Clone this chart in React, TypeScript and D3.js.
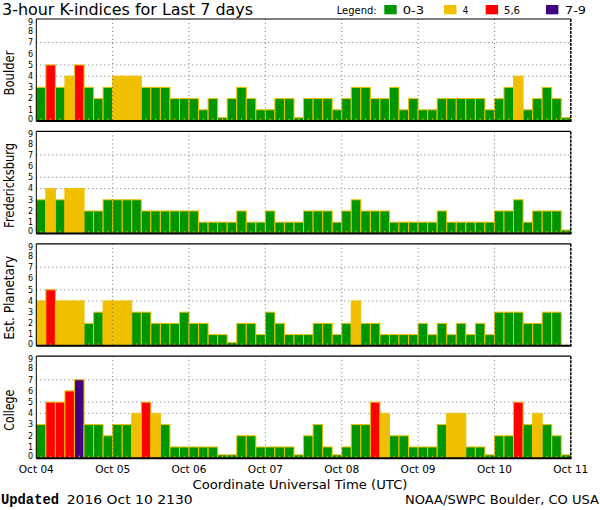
import React from "react";
import * as d3 from "d3";

const dayLabels = ["Oct 04", "Oct 05", "Oct 06", "Oct 07", "Oct 08", "Oct 09", "Oct 10", "Oct 11"];
const stations = ["Boulder", "Fredericksburg", "Est. Planetary", "College"];
const yTicks = [0, 1, 2, 3, 4, 5, 6, 7, 8, 9];
const gridLevels = [4, 5, 7];

const boulder = [3,5,3,4,5,3,2,3, 4,4,4,3,3,3,2,2, 2,1,2,0,2,3,2,1, 1,2,2,0,2,2,2,1, 2,3,3,2,2,3,1,2, 1,1,2,2,2,2,2,1, 2,3,4,1,2,3,2,0];
const fredericksburg = [3,4,3,4,4,2,2,3, 3,3,3,2,2,2,2,2, 2,1,1,1,1,2,1,1, 2,1,1,1,2,2,2,1, 2,3,2,2,2,1,1,1, 1,1,2,1,1,1,1,1, 2,2,3,1,2,2,2,0];
const planetary = [4,5,4,4,4,2,3,4, 4,4,3,3,2,2,2,3, 2,2,1,1,0,2,2,1, 3,2,1,1,1,2,2,1, 2,4,2,2,1,1,1,1, 2,1,2,1,2,1,2,1, 3,3,3,2,2,3,3];
const college = [3,5,5,6,7,3,3,2, 3,3,4,5,4,3,1,1, 1,1,1,0,0,2,2,1, 1,1,1,0,2,3,1,0, 1,3,3,5,4,2,2,1, 1,1,3,4,4,1,1,0, 2,2,5,3,4,3,2,0];
const series = [boulder, fredericksburg, planetary, college];

const legendLabels = ["0-3", "4", "5,6", "7-9"];
const legendColors = ["#009600", "#f0c000", "#ff0000", "#400080"];

const SLOTS = 56;
const FONT = "DejaVu Sans, Verdana, sans-serif";

function colorFor(v: number) {
  if (v <= 3) return legendColors[0];
  if (v === 4) return legendColors[1];
  if (v <= 6) return legendColors[2];
  return legendColors[3];
}

export default function App() {
  const x = d3.scaleLinear().domain([0, SLOTS]).range([36.3, 570.8]);
  const panelTop = (i: number) => 19 + i * 112.4;
  const panelH = 102;
  const dayIdx = d3.range(0, 8);
  const labelLens = [45, 85, 84, 41];
  const legendX = [
    { sx: 384.3, tx: 402.7, tl: 21.5 },
    { sx: 444, tx: 462.7, tl: 5.5 },
    { sx: 485.7, tx: 504, tl: 16 },
    { sx: 546, tx: 565, tl: 21 },
  ];

  return (
    <svg
      width={600}
      height={510}
      style={{ position: "fixed", left: 0, top: 0, background: "#fff" }}
      fontFamily={FONT}
    >
      <rect x={0} y={0} width={600} height={510} fill="#fff" />
      <text x={2} y={15} fontSize={16} textLength={251} lengthAdjust="spacingAndGlyphs">
        3-hour K-indices for Last 7 days
      </text>
      <text x={336.7} y={14.3} fontSize={11} textLength={40} lengthAdjust="spacingAndGlyphs">
        Legend:
      </text>
      {legendLabels.map((l, i) => (
        <g key={l}>
          <rect x={legendX[i].sx} y={5} width={12.4} height={9.3} fill={legendColors[i]} />
          <text x={legendX[i].tx} y={14.3} fontSize={11} textLength={legendX[i].tl} lengthAdjust="spacingAndGlyphs">
            {l}
          </text>
        </g>
      ))}

      {series.map((data, p) => {
        const top = panelTop(p);
        const bottom = top + panelH;
        const y = d3.scaleLinear().domain([0, 9.1]).range([bottom, top]);
        const left = x(0);
        const right = x(SLOTS);
        return (
          <g key={stations[p]}>
            {gridLevels.map((g) => (
              <line key={g} x1={left} x2={right} y1={y(g)} y2={y(g)} stroke="#777" strokeWidth={1} strokeDasharray="1,3" />
            ))}
            {data.map((v, i) => {
              const vv = Math.max(v, 0.3);
              return (
                <rect
                  key={i}
                  x={x(i)}
                  y={y(vv)}
                  width={x(i + 1) - x(i)}
                  height={bottom - y(vv)}
                  fill={colorFor(v)}
                  stroke="#f0c000"
                  strokeWidth={1}
                />
              );
            })}
            {d3.range(SLOTS).map((i) => (
              <line key={"t" + i} x1={x(i + 0.5)} x2={x(i + 0.5)} y1={bottom - 0.5} y2={bottom - 2.5} stroke="#f0c000" strokeWidth={1} />
            ))}
            {dayIdx.slice(1, 7).map((d) => (
              <line key={"v" + d} x1={x(d * 8)} x2={x(d * 8)} y1={top} y2={bottom} stroke="#777" strokeWidth={1} strokeDasharray="1,3" />
            ))}
            <line x1={left} x2={right} y1={top} y2={top} stroke="#000" strokeWidth={1.2} />
            <line x1={left} x2={left} y1={top} y2={bottom} stroke="#000" strokeWidth={1} />
            <line x1={right} x2={right} y1={top} y2={bottom} stroke="#000" strokeWidth={1.5} strokeDasharray="3,1" />
            <line x1={left} x2={right + 0.7} y1={bottom} y2={bottom} stroke="#000" strokeWidth={2} />
            {yTicks.map((t) => {
              const cy = Math.min(Math.max(y(t), top + 3), bottom - 2);
              return (
                <text key={t} x={33} y={cy} dy="0.36em" fontSize={8} textAnchor="end">
                  {t}
                </text>
              );
            })}
            <text
              transform={`translate(14,${(top + bottom) / 2 + 3}) rotate(-90)`}
              fontSize={13.5}
              textAnchor="middle"
              textLength={labelLens[p]}
              lengthAdjust="spacingAndGlyphs"
            >
              {stations[p]}
            </text>
          </g>
        );
      })}

      {dayLabels.map((l, d) => (
        <text key={l} x={x(d * 8)} y={473.3} fontSize={10.5} textAnchor="middle" textLength={35} lengthAdjust="spacingAndGlyphs">
          {l}
        </text>
      ))}
      <text x={300} y={488.5} fontSize={13} textAnchor="middle" textLength={215} lengthAdjust="spacingAndGlyphs">
        Coordinate Universal Time (UTC)
      </text>
      <text x={1} y={503.5} fontSize={14} fontWeight="bold" fontFamily="Liberation Mono, Courier New, monospace" textLength={58} lengthAdjust="spacingAndGlyphs">
        Updated
      </text>
      <text x={66.7} y={503.5} fontSize={13} textLength={126} lengthAdjust="spacingAndGlyphs">
        2016 Oct 10 2130
      </text>
      <text x={405} y={504} fontSize={13} textLength={194} lengthAdjust="spacingAndGlyphs">
        NOAA/SWPC Boulder, CO USA
      </text>
    </svg>
  );
}
